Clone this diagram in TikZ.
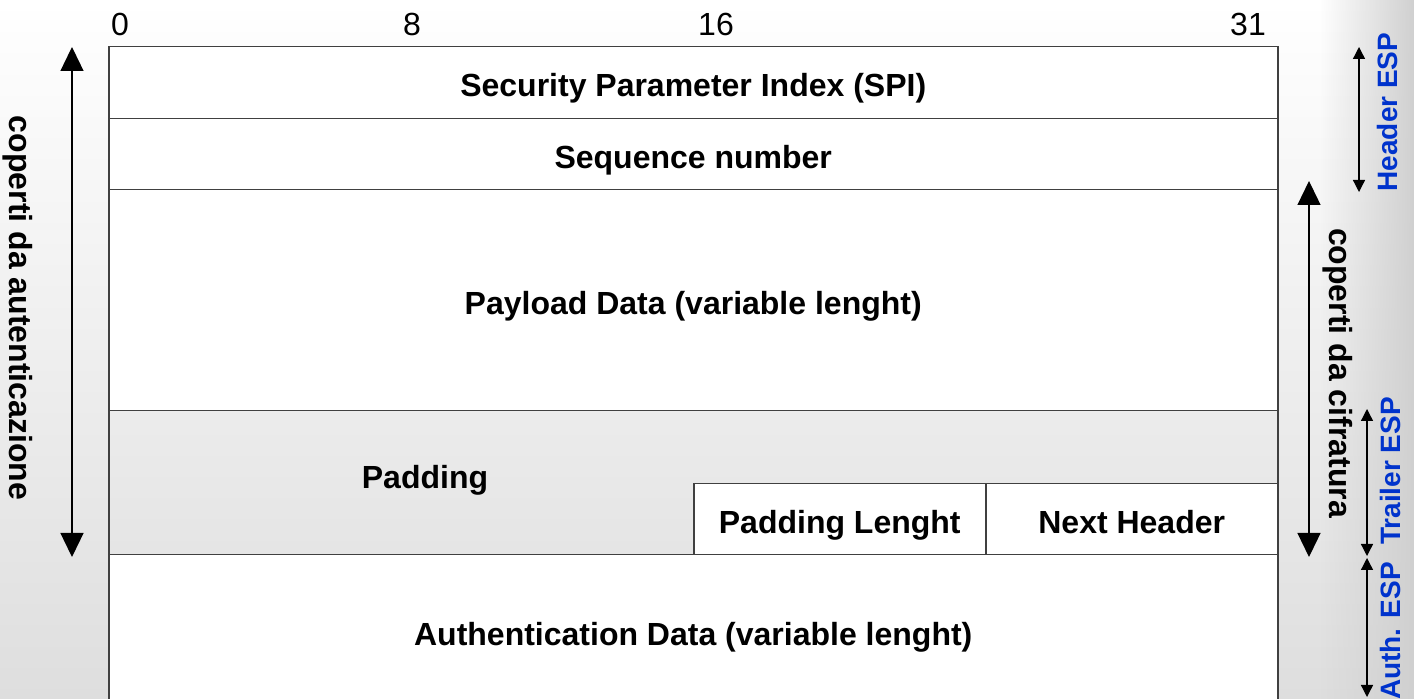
\documentclass[tikz,border=0pt]{standalone}
\usepackage{fontspec}
\setmainfont{Liberation Sans}
\usetikzlibrary{arrows.meta,fadings}
\definecolor{linegray}{RGB}{64,64,64}
\definecolor{bggray}{RGB}{222,222,222}
\definecolor{sidegray}{RGB}{208,208,208}
\definecolor{espblue}{RGB}{0,51,204}
\tikzset{
  field/.style={draw=linegray, line width=0.75pt, fill=white, anchor=north west,
    inner sep=0pt, text height=14pt, text depth=0pt, font=\fontsize{16}{19}\selectfont\bfseries},
  bitnum/.style={font=\fontsize{16}{19}\selectfont},
  covertext/.style={rotate=-90, font=\fontsize{16}{19}\selectfont\bfseries},
  coverarrow/.style={{Triangle[width=11.5pt,length=12pt]}-{Triangle[width=11.5pt,length=12pt]}, line width=0.65pt},
  esparrow/.style={{Triangle[width=6pt,length=6pt]}-{Triangle[width=6pt,length=6pt]}, line width=0.65pt},
  esptext/.style={rotate=90, text=espblue, font=\fontsize{14}{17}\selectfont\bfseries}
}

\begin{document}
\begin{tikzpicture}[x=0.5pt, y=-0.5pt]
  \clip (0,0) rectangle (1414,699); % margini del disegno
  \fill[top color=white, bottom color=bggray] (0,0) rectangle (1414,699); % sfondo
  \fill[sidegray, path fading=west] (1320,0) rectangle (1414,699);

  % numeri dei bit
  \node[bitnum] (b0) at (120,24) {0};
  \node[bitnum] (b8) at (412,24) {8};
  \node[bitnum] (b16) at (716,24) {16};
  \node[bitnum] (b31) at (1248,24) {31};

  % campi del pacchetto ESP
  \node[field, minimum width=584.5pt, minimum height=36pt] (spi) at (108,46) {Security Parameter Index (SPI)};
  \node[field, minimum width=584.5pt, minimum height=35.5pt] (seq) at (108,118) {Sequence number};
  \node[field, minimum width=584.5pt, minimum height=110.5pt] (payload) at (108,189) {Payload Data (variable lenght)};
  \node[field, fill=none, minimum width=584.5pt, minimum height=72pt] (padding) at (108,410) {};
  \node[font=\fontsize{16}{19}\selectfont\bfseries, text height=14pt, text depth=0pt] (padlbl) at (425,475) {Padding};
  \node[field, minimum width=146pt, minimum height=35.5pt] (padlen) at (693,483) {Padding Lenght};
  \node[field, minimum width=146pt, minimum height=35.5pt] (nexthdr) at (985,483) {Next Header};
  \node[field, minimum width=584.5pt, minimum height=77pt] (authdata) at (108,554) {Authentication Data (variable lenght)};

  % frecce di copertura
  \coordinate (autTop) at (72,47);
  \coordinate (autBot) at (72,557);
  \draw[coverarrow] (autTop) -- (autBot);
  \node[covertext] (autlbl) at (18,308) {coperti da autenticazione};

  \coordinate (cifTop) at (1309,181);
  \coordinate (cifBot) at (1309,557);
  \draw[coverarrow] (cifTop) -- (cifBot);
  \node[covertext] (ciflbl) at (1338,373) {coperti da cifratura};

  % parti ESP
  \coordinate (hdrTop) at (1359,47);
  \coordinate (hdrBot) at (1359,192);
  \draw[esparrow] (hdrTop) -- (hdrBot);
  \node[esptext] (hdrlbl) at (1387,112) {Header ESP};

  \coordinate (trlTop) at (1367,409);
  \coordinate (trlBot) at (1367,556);
  \draw[esparrow] (trlTop) -- (trlBot);
  \node[esptext] (trllbl) at (1390,471) {Trailer ESP};

  \coordinate (athTop) at (1367,558);
  \coordinate (athBot) at (1367,697);
  \draw[esparrow] (athTop) -- (athBot);
  \node[esptext] (athlbl) at (1390,631) {Auth. ESP};
\end{tikzpicture}
\end{document}
